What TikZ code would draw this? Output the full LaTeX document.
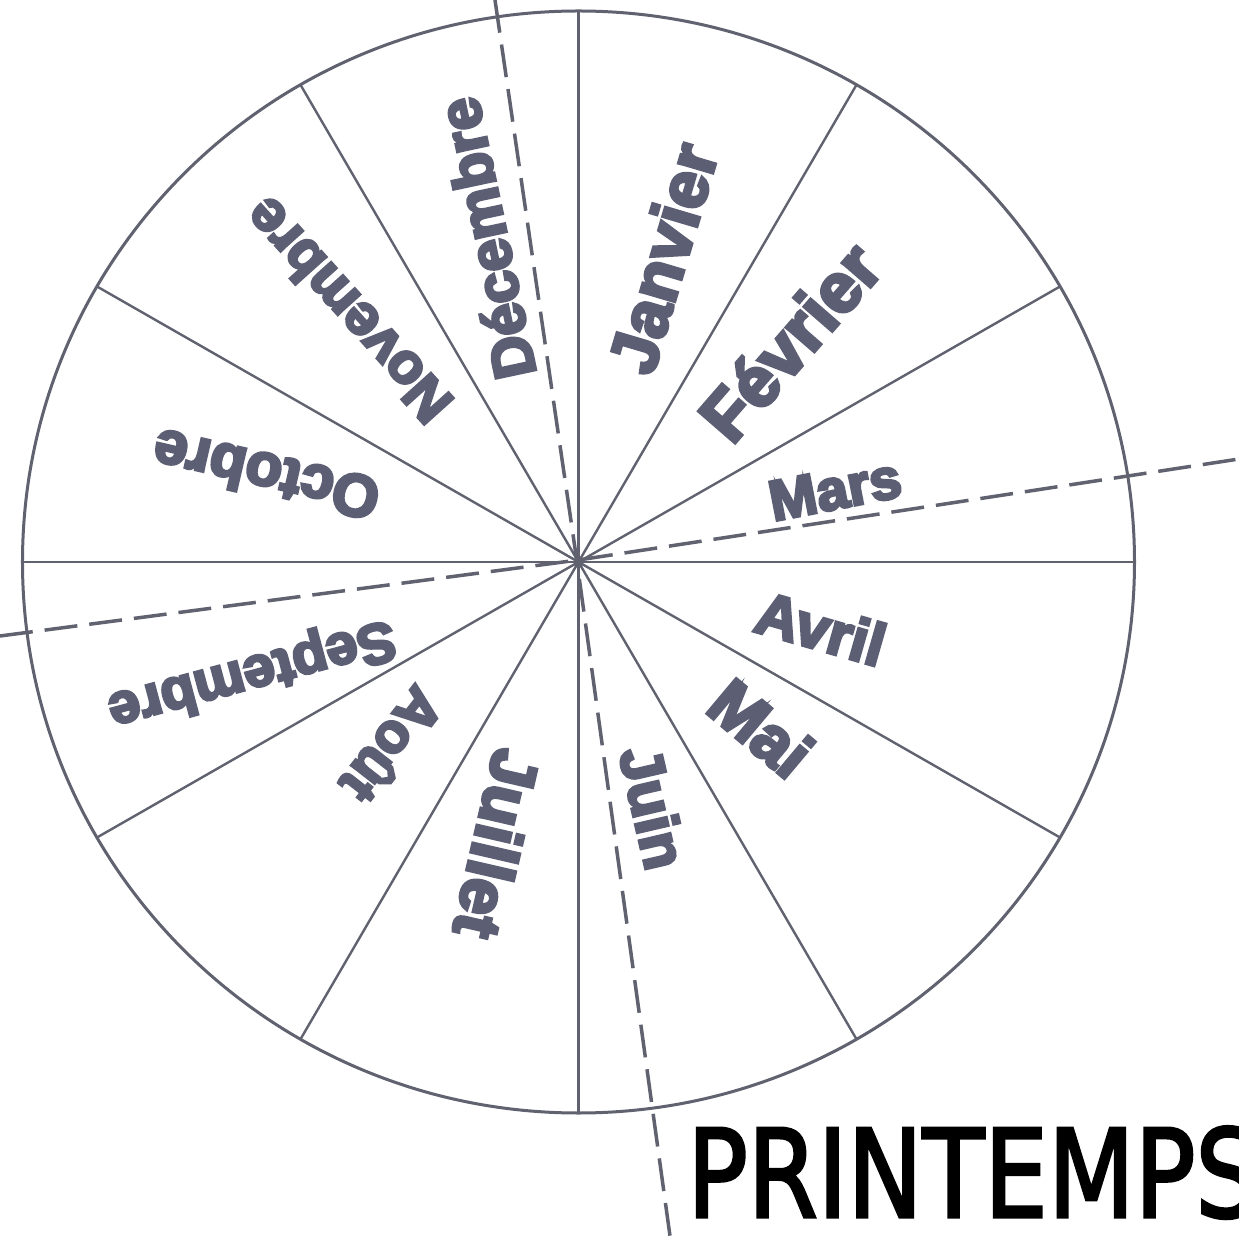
\documentclass[tikz,border=0pt]{standalone}
\usepackage{fontspec}
\newfontfamily\mfont{Liberation Sans Bold}[FakeBold=5]
\newfontfamily\pfont{DejaVu Sans}[FakeBold=2.5]
\definecolor{ink}{RGB}{92,95,116}
\definecolor{lin}{RGB}{96,98,112}
\tikzset{
  spoke/.style={draw=lin, line width=2.4pt},
  rim/.style={draw=lin, line width=3pt},
  cutline/.style={draw=lin, line width=3.5pt, dash pattern=on 33pt off 12pt},
  mon/.style={text=ink, inner sep=0pt, font=\mfont\fontsize{#1}{#1}\selectfont},
  season/.style={text=black, inner sep=0pt, anchor=base west, xscale=0.825,
    font=\pfont\fontsize{122}{122}\selectfont}
}
\begin{document}
\begin{tikzpicture}[x=1pt,y=1pt]
\useasboundingbox (-578.5,-674) rectangle (660.5,562);
\clip (-578.5,-674) rectangle (660.5,562);
\fill[white] (-578.5,-674) rectangle (660.5,562);
\coordinate (O) at (0,0);
% spokes
\foreach \a in {0,30,...,330}
  \draw[spoke] (O) -- ({556*cos(\a)},{551*sin(\a)});
% rim
\draw[rim] (O) ellipse[x radius=556, y radius=551];
% dashed cut lines
\coordinate (a1) at (-83.5,562);
\coordinate (a0) at (-1.5,0);
\coordinate (a2) at (91.5,-674);
\coordinate (b1) at (-578.5,-74);
\coordinate (b0) at (0,2);
\coordinate (b2) at (660.5,103);
\draw[cutline] (a1) -- (a0) -- (a2);
\draw[cutline] (b1) -- (b0) -- (b2);
% months
\node[mon=67, rotate=73.5] (jan) at (84,304) {Janvier};
\node[mon=70, rotate=49]   (feb) at (211,220.5) {Février};
\node[mon=57, rotate=11]   (mar) at (256.5,72.5) {Mars};
\node[mon=60, rotate=-16]  (apr) at (242.5,-66) {Avril};
\node[mon=66, rotate=-40]  (may) at (182.5,-166) {Mai};
\node[mon=60, rotate=-77]  (jun) at (75,-245.5) {Juin};
\node[mon=66, rotate=-103] (jul) at (-81.5,-282) {Juillet};
\node[mon=56, rotate=-128] (aug) at (-185.5,-183.5) {Août};
\node[mon=57, rotate=195]  (sep) at (-327,-110.5) {Septembre};
\node[mon=60, rotate=167]  (oct) at (-312.5,86.5) {Octobre};
\node[mon=57, rotate=132]  (nov) at (-231,251) {Novembre};
\node[mon=59, rotate=102]  (dec) at (-92.5,323.5) {Décembre};
% season
\node[season] (spring) at (108.5,-655) {PRINTEMPS};
\end{tikzpicture}
\end{document}
